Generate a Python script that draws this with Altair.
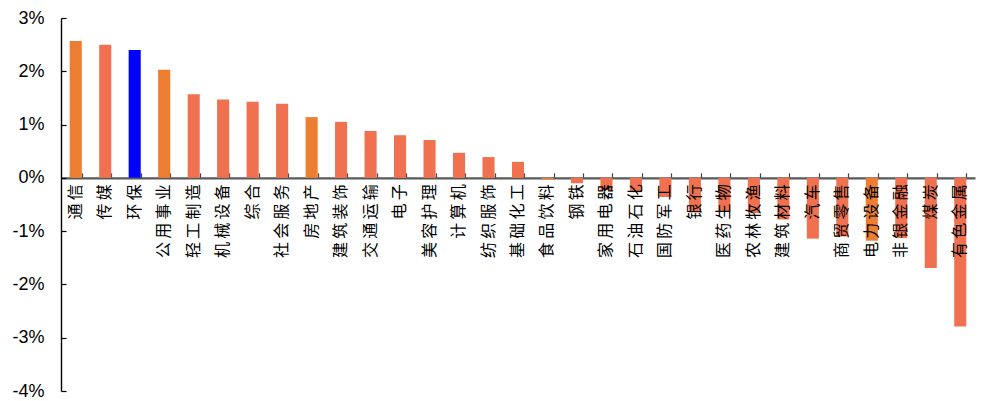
import altair as alt
import pandas as pd

# Sector returns (%), sorted from best to worst
sectors = ["通信", "传媒", "环保", "公用事业", "轻工制造", "机械设备", "综合", "社会服务",
           "房地产", "建筑装饰", "交通运输", "电子", "美容护理", "计算机", "纺织服饰", "基础化工",
           "食品饮料", "钢铁", "家用电器", "石油石化", "国防军工", "银行", "医药生物", "农林牧渔",
           "建筑材料", "汽车", "商贸零售", "电力设备", "非银金融", "煤炭", "有色金属"]
returns_pct = [2.57, 2.50, 2.40, 2.03, 1.57, 1.47, 1.43, 1.39,
               1.14, 1.05, 0.88, 0.80, 0.71, 0.47, 0.39, 0.30,
               -0.03, -0.10, -0.23, -0.27, -0.36, -0.65, -0.64, -0.66,
               -0.78, -1.14, -1.10, -1.18, -1.13, -1.69, -2.79]

ORANGE = "#ED7D31"
SALMON = "#EF714F"
BLUE = "#0000FF"
highlight_orange = {"通信", "公用事业", "房地产", "食品饮料", "电力设备"}
highlight_blue = {"环保"}
bar_colors = [BLUE if s in highlight_blue else ORANGE if s in highlight_orange else SALMON
              for s in sectors]

y_ticks = [3, 2, 1, 0, -1, -2, -3, -4]

df = pd.DataFrame({"sector": sectors, "ret": returns_pct, "color": bar_colors})

W, H = 914, 373
Y_MIN, Y_MAX = -4, 3
zero_from_bottom = H * (0 - Y_MIN) / (Y_MAX - Y_MIN)
zero_from_top = H - zero_from_bottom

x_scale = alt.Scale(paddingInner=0.59, paddingOuter=0.295)
y_scale = alt.Scale(domain=[Y_MIN, Y_MAX], nice=False)

base = alt.Chart(df)

# Bars with category labels hanging just below the zero line (drawn over the bars),
# and % labels on the left
bars = base.mark_bar().encode(
    x=alt.X("sector:N", sort=None, scale=x_scale, title=None,
            axis=alt.Axis(orient="bottom", offset=-zero_from_bottom, domain=False, ticks=False,
                          labelAngle=270, labelAlign="right", labelBaseline="middle",
                          labelExpr="join(split(datum.label, ''), '\u2009')",
                          labelPadding=6, labelFont="Noto Sans CJK SC", labelFontSize=16,
                          labelColor="#000000", labelOverlap=False, labelLimit=400, zindex=2)),
    y=alt.Y("ret:Q", scale=y_scale, title=None,
            axis=alt.Axis(orient="left", values=y_ticks, domain=False, ticks=False, grid=False,
                          labelExpr="datum.value + '%'", labelPadding=17,
                          labelFont="Liberation Sans", labelFontSize=18, labelColor="#000000")),
    color=alt.Color("color:N", scale=None, legend=None),
)

# Axis lines with inward-pointing ticks: zero line across, vertical axis on the left
frame = base.mark_bar(opacity=0).encode(
    x=alt.X("sector:N", sort=None, scale=x_scale, title=None,
            axis=alt.Axis(orient="top", offset=-zero_from_top, labels=False, ticks=True,
                          tickBand="extent", tickSize=5, tickColor="#404040", tickWidth=1.2,
                          domain=True, domainColor="#595959", domainWidth=2.2, zindex=0)),
    y=alt.Y("ret:Q", scale=y_scale, title=None,
            axis=alt.Axis(orient="right", offset=-W, values=y_ticks, labels=False, grid=False,
                          ticks=True, tickSize=5, tickColor="#000000", tickWidth=1.2,
                          domain=True, domainColor="#000000", domainWidth=1.4, zindex=1)),
)

chart = (
    alt.layer(bars, frame)
    .resolve_axis(x="independent", y="independent")
    .properties(width=W, height=H, autosize=alt.AutoSizeParams(type="none"),
                padding={"left": 61, "top": 18, "right": 11, "bottom": 10},
                background="#FFFFFF")
    .configure_view(strokeOpacity=0)
)

chart.save("out.html", embed_options={"renderer": "svg", "actions": False})
